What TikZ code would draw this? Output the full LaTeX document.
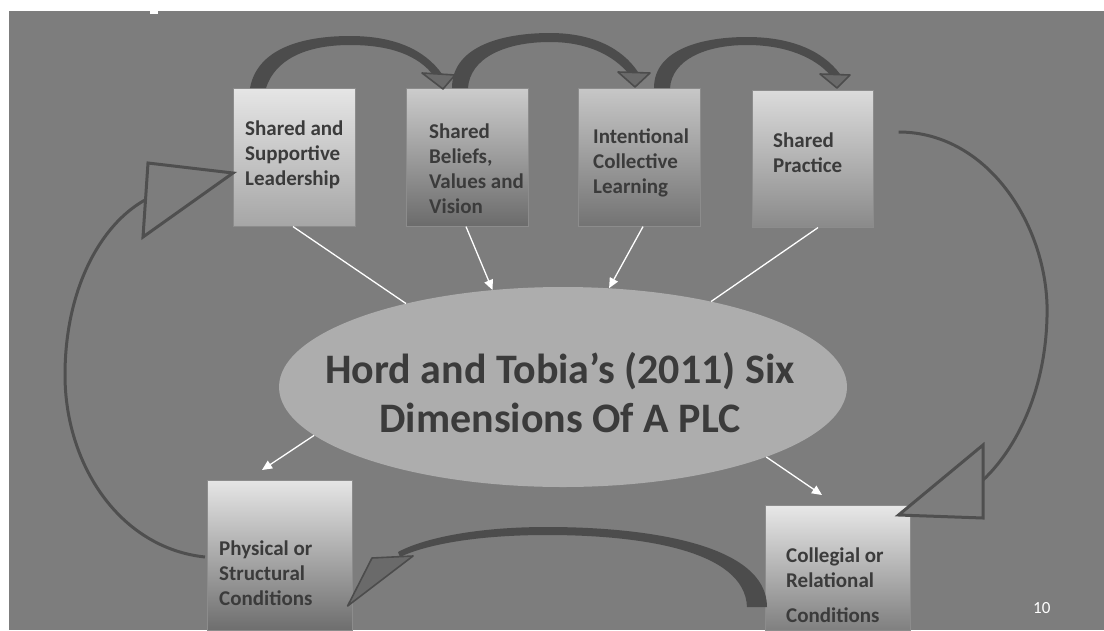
\documentclass[tikz,border=0pt]{standalone}
\usepackage{fontspec}
\setmainfont{Carlito}
\usetikzlibrary{arrows.meta,calc,shapes.geometric}
\definecolor{bg}{HTML}{7D7D7D}
\definecolor{ellc}{HTML}{ADADAD}
\definecolor{txt}{HTML}{3B3B3B}
\definecolor{band}{HTML}{4C4C4C}
\definecolor{headc}{HTML}{6A6A6A}
\definecolor{loopc}{HTML}{4F4F4F}
\tikzset{
  box/.style={rectangle, draw=black!45, line width=0.6pt, inner sep=0pt, anchor=north west},
  boxtext/.style={font=\bfseries\fontsize{21}{25}\selectfont, text=txt, align=left, anchor=base west, inner sep=0pt},
  wline/.style={draw=white, line width=1.3pt},
  warrow/.style={draw=white, line width=1.3pt, -{Triangle[length=10pt,width=9pt,fill=white]}},
  bandfill/.style={fill=band},
  headfill/.style={fill=headc, draw=band, line width=1.6pt, line join=round},
  loopline/.style={draw=loopc, line width=3pt},
  loophead/.style={draw=loopc, fill=bg, line width=3pt, line join=miter}
}
\begin{document}
\begin{tikzpicture}[x=1pt,y=-1pt]
\useasboundingbox (0,0) rectangle (1104,630);
\fill[white] (0,0) rectangle (1104,630);
\fill[bg] (9,11) rectangle (1104,630);
\fill[white] (150,8) rectangle (158,14);

% boxes
\node[box, minimum width=122, minimum height=138, top color=black!10, middle color=black!22, bottom color=black!35] (b1) at (233,88) {};
\node[box, minimum width=122, minimum height=138, top color=black!20, middle color=black!40, bottom color=black!58] (b2) at (406,88) {};
\node[box, minimum width=122, minimum height=138, top color=black!22, middle color=black!42, bottom color=black!55] (b3) at (578,88) {};
\node[box, minimum width=121, minimum height=137, top color=black!14, middle color=black!30, bottom color=black!46] (b4) at (752,90) {};
\node[box, minimum width=145, minimum height=150, top color=black!10, middle color=black!35, bottom color=black!57] (b5) at (207,480) {};
\node[box, minimum width=145, minimum height=125, top color=black!9, middle color=black!30, bottom color=black!50] (b6) at (765,505) {};

\node[boxtext] (t1) at (245,185) {Shared and\\Supportive\\Leadership};
\node[boxtext] (t2) at (429,213) {Shared\\Beliefs,\\Values and\\Vision};
\node[boxtext] (t3) at (593,193) {Intentional\\Collective\\Learning};
\node[boxtext] (t4) at (773,172) {Shared\\Practice};
\node[boxtext] (t5) at (219,605) {Physical or\\Structural\\Conditions};
\node[boxtext] (t6) at (786,622) {Collegial or\\Relational\\[10pt]Conditions};

% central ellipse
\node[ellipse, fill=ellc, minimum width=568, minimum height=200, inner sep=0pt] (ell) at (563,387) {};
\node[font=\bfseries\fontsize{42}{49}\selectfont, text=txt, align=center, anchor=base, inner sep=0pt] (title) at (560,432) {Hord and Tobia’s (2011) Six\\Dimensions Of A PLC};

% white connectors
\draw[wline] ($(b1.south west)+(60,0)$) -- (ell.152);
\draw[warrow] ($(b2.south west)+(60,0)$) -- (ell.126);
\draw[warrow] ($(b3.south west)+(65,0)$) -- (ell.65);
\draw[wline] ($(b4.south west)+(66,0)$) -- (ell.30);
\draw[warrow] (ell.191) -- ($(b5.north west)+(55,-10)$);
\draw[warrow] (ell.341) -- ($(b6.north west)+(57,-10)$);

% top curved arrows
\coordinate (a1s) at ($(b1.north west)+(25,0)$);
\coordinate (a1t) at ($(b2.north west)+(37,1)$);
\fill[bandfill] ($(a1s)+(-8,0)$) .. controls (258,45) and (310,36) .. (350,36) .. controls (395,36) and (425,50) .. (442,74)
  -- (434,76) .. controls (418,55) and (390,45) .. (350,45) .. controls (305,45) and (275,60) .. ($(a1s)+(8,0)$) -- cycle;
\draw[headfill] (422,73) -- (455,75) -- (a1t) -- cycle;

\coordinate (a2s) at ($(b2.north west)+(54,0)$);
\coordinate (a2t) at ($(b3.north west)+(57,-1)$);
\fill[bandfill] ($(a2s)+(-8,0)$) .. controls (452,45) and (505,33) .. (550,33) .. controls (592,33) and (622,48) .. (638,72)
  -- (629,74) .. controls (613,55) and (587,42) .. (550,42) .. controls (505,42) and (470,58) .. ($(a2s)+(8,0)$) -- cycle;
\draw[headfill] (618,72) -- (650,73) -- (a2t) -- cycle;

\coordinate (a3s) at ($(b3.north west)+(84,0)$);
\coordinate (a3t) at ($(b4.north west)+(85,-2)$);
\fill[bandfill] ($(a3s)+(-8,0)$) .. controls (654,48) and (705,37) .. (747,37) .. controls (790,37) and (822,50) .. (840,74)
  -- (831,76) .. controls (815,57) and (785,45) .. (747,45) .. controls (705,45) and (672,60) .. ($(a3s)+(8,0)$) -- cycle;
\draw[headfill] (820,74) -- (850,75) -- (a3t) -- cycle;

% bottom curved arrow (b6 -> b5)
\coordinate (a4s) at ($(b6.north west)+(-8,102)$);
\coordinate (a4t) at ($(b5.north east)+(-5,126)$);
\fill[bandfill] ($(a4s)+(10,0)$) .. controls (767,545) and (650,527) .. (547,527) .. controls (470,527) and (420,540) .. (398,552)
  -- (400,557) .. controls (425,545) and (475,535) .. (547,535) .. controls (640,535) and (745,550) .. ($(a4s)+(-10,0)$) -- cycle;
\draw[headfill] (a4t) -- (372,558) -- (413,556) -- cycle;

% right loop (b4 -> b6)
\coordinate (rs) at ($(b4.north east)+(25,42)$);
\coordinate (rt) at ($(b6.north east)+(-12,10)$);
\draw[loopline] (rs) .. controls (990,132) and (1050,230) .. (1047,317) .. controls (1045,400) and (1010,455) .. (983,480);
\draw[loophead] (983,445) -- (983,518) -- (rt) -- cycle;

% left loop (b5 -> b1)
\coordinate (ls) at ($(b5.north west)+(-2,77)$);
\coordinate (lt) at ($(b1.north west)+(0,85)$);
\draw[loopline] (ls) .. controls (120,548) and (65,465) .. (65,375) .. controls (65,290) and (100,225) .. (145,200);
\draw[loophead] (148,163) -- (lt) -- (143,237) -- cycle;

% page number
\node[font=\fontsize{17}{20}\selectfont, text=white, anchor=base west, inner sep=0pt] (pg) at (1033,613) {10};
\end{tikzpicture}
\end{document}
